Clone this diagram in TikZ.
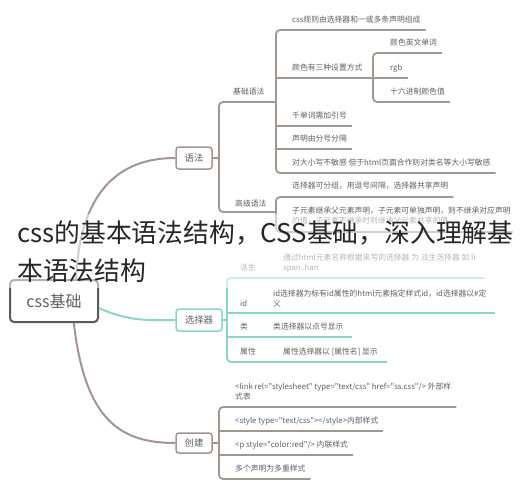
\documentclass[tikz,border=0pt]{standalone}
\usepackage{fontspec}
\setmainfont{Noto Sans CJK SC}
\newfontfamily\mapfont{Noto Sans CJK SC}
\usetikzlibrary{positioning}

\definecolor{brline}{HTML}{A39590}
\definecolor{tlline}{HTML}{8AD5CA}
\definecolor{txtgray}{HTML}{606060}
\definecolor{rootgray}{HTML}{5A5A5A}

\tikzset{
  brn/.style={draw=brline, line width=1.8pt, rounded corners=4pt},
  tln/.style={draw=tlline, line width=1.8pt, rounded corners=4pt},
  leaf/.style={anchor=west, inner sep=0pt, text=txtgray, align=left,
    font=\mapfont\fontsize{7.8}{10}\selectfont},
  topic/.style={line width=1.5pt, rounded corners=3pt, fill=white, text=txtgray,
    inner sep=0pt, minimum width=36pt, minimum height=22pt,
    font=\fontsize{9.3}{10}\selectfont},
  rootbox/.style={draw=rootgray, line width=2pt, rounded corners=4pt, fill=white,
    text=txtgray, minimum width=88pt, minimum height=42pt,
    font=\fontsize{16}{17}\selectfont},
  headline/.style={anchor=west, inner sep=0pt, align=left, text=black!85,
    font=\fontsize{25.8}{38}\selectfont},
}

\begin{document}
\begin{tikzpicture}[x=1pt, y=-1pt]
  \useasboundingbox (0,0) rectangle (529,490);
  \fill[white] (0,0) rectangle (529,490);

  % main topics
  \node[rootbox] (root) at (54,301) {css基础};
  \node[topic, draw=brline] (syn) at (194,158) {语法};
  \node[topic, draw=tlline, minimum width=46pt] (sel) at (199,320) {选择器};
  \node[topic, draw=brline, minimum height=20pt] (mk) at (194,443) {创建};

  \draw[brn, line width=2pt] (root.45) .. controls (80,190) and (120,158) .. (syn.west);
  \draw[tln, line width=2pt] (root.-9) .. controls (130,322) and (150,320) .. (sel.west);
  \draw[brn, line width=2pt] (root.-48) .. controls (85,420) and (120,443) .. (mk.west);

  % 语法
  \coordinate (st) at (219,102);
  \coordinate (sb) at (219,212);
  \coordinate (kt) at (276,102);
  \coordinate (ab) at (276,212);
  \draw[brn] (syn.east) -- (syn.east -| st);
  \draw[brn] (kt) -- (st) -- (sb) -- (ab);
  \node[leaf] (base) at (233,92) {基础语法};
  \node[leaf] (adv) at (235,204) {高级语法};

  \node[leaf] (k1) at (292,20) {css规则由选择器和一或多条声明组成};
  \node[leaf] (k2) at (292,68) {颜色有三种设置方式};
  \node[leaf] (c1) at (390,43) {颜色英文单词};
  \node[leaf] (c2) at (390,68) {rgb};
  \node[leaf] (c3) at (390,92) {十六进制颜色值};
  \node[leaf] (k3) at (292,116) {千单词需加引号};
  \node[leaf] (k4) at (292,139) {声明由分号分隔};
  \node[leaf] (k5) at (292,163) {对大小写不敏感 但于html页面合作则对类名等大小写敏感};
  \draw[brn] ([shift={(5,10)}]k1.east) -- ([shift={(-16,10)}]k1.west)
    -- ([shift={(-16,10)}]k5.west) -- ([shift={(5,10)}]k5.east);
  \draw[brn] ([shift={(-16,10)}]k2.west) -- ([shift={(5,10)}]c2.east);
  \draw[brn] ([shift={(-16,10)}]k3.west) -- ([shift={(5,10)}]k3.east);
  \draw[brn] ([shift={(-16,10)}]k4.west) -- ([shift={(5,10)}]k4.east);
  \draw[brn] ([shift={(5,10)}]c1.east) -- ([shift={(-17,10)}]c1.west)
    -- ([shift={(-17,10)}]c3.west) -- ([shift={(5,10)}]c3.east);

  \node[leaf] (a1) at (292,186) {选择器可分组，用逗号间隔，选择器共享声明};
  \node[leaf] (a2) at (292,216) {子元素继承父元素声明，子元素可单独声明，则不继承对应声明\\的值，子元素不继承时则继承父元素共享的值};
  \draw[brn] ([shift={(5,11)}]a1.east) -- ([shift={(-16,11)}]a1.west)
    -- ([shift={(-16,16)}]a2.west) -- ([shift={(2,16)}]a2.east);

  % 选择器
  \node[leaf] (l1) at (240,268) {派生};
  \node[leaf] (d1) at (283,263) {通过html元素名称根据来写的选择器 为 派生选择器 如 li\\span .han};
  \node[leaf] (l2) at (240,303) {id};
  \node[leaf] (d2) at (273,298) {id选择器为标有id属性的html元素指定样式id，id选择器以\#定\\义};
  \node[leaf] (l3) at (240,327) {类};
  \node[leaf] (d3) at (273,327) {类选择器以点号显示};
  \node[leaf] (l4) at (240,352) {属性};
  \node[leaf] (d4) at (283,352) {属性选择器以 [属性名] 显示};
  \draw[tln] (sel.east) -- ++(5,0);
  \draw[tln] ([shift={(9,15)}]d1.east) -- ([shift={(-13,10)}]l1.west)
    -- ([shift={(-13,10)}]l4.west) -- ([shift={(9,10)}]d4.east);
  \draw[tln] ([shift={(-13,10)}]l2.west) -- ([shift={(8,15)}]d2.east);
  \draw[tln] ([shift={(-13,10)}]l3.west) -- ([shift={(8,10)}]d3.east);

  % 创建
  \node[leaf] (m1) at (235,392) {<link rel="stylesheet" type="text/css" href="ss.css"/> 外部样\\式表};
  \node[leaf] (m2) at (235,421) {<style type="text/css"></style>内部样式};
  \node[leaf] (m3) at (235,445) {<p style="color:red"/> 内联样式};
  \node[leaf] (m4) at (235,469) {多个声明为多重样式};
  \draw[brn] (mk.east) -- ++(7,0);
  \draw[brn] ([shift={(5,15)}]m1.east) -- ([shift={(-16,15)}]m1.west)
    -- ([shift={(-16,10)}]m4.west) -- ([shift={(5,10)}]m4.east);
  \draw[brn] ([shift={(-16,10)}]m2.west) -- ([shift={(5,10)}]m2.east);
  \draw[brn] ([shift={(-16,10)}]m3.west) -- ([shift={(5,10)}]m3.east);

  % headline over the map
  \fill[white, opacity=0.55] (0,214) rectangle (529,288);
  \node[headline] (ttl) at (17,252) {css的基本语法结构，CSS基础，深入理解基\\本语法结构};
\end{tikzpicture}
\end{document}
